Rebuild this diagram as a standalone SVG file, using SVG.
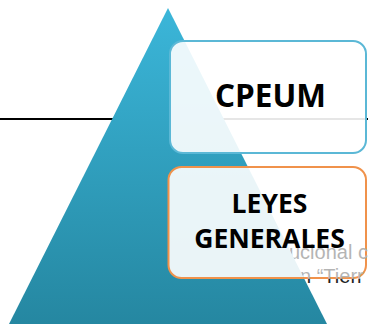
<svg xmlns="http://www.w3.org/2000/svg" width="368" height="324" viewBox="0 0 368 324">
  <defs>
    <linearGradient id="triGrad" x1="0" y1="0" x2="0" y2="1">
      <stop offset="0" stop-color="#3bb6d9"/>
      <stop offset="1" stop-color="#2587a1"/>
    </linearGradient>
    <linearGradient id="bgTextGrad" gradientUnits="userSpaceOnUse" x1="0" y1="240" x2="0" y2="300">
      <stop offset="0" stop-color="#b4b4b4"/>
      <stop offset="0.64" stop-color="#b4b4b4"/>
      <stop offset="0.65" stop-color="#222222"/>
      <stop offset="1" stop-color="#222222"/>
    </linearGradient>
    <clipPath id="outsideTri">
      <polygon points="168,8 368,8 368,324 327,324"/>
    </clipPath>
  </defs>
  <style>
    .box { fill: #ffffff; fill-opacity: 0.9; stroke-width: 2; }
    .label { font-family: "Open Sans", "Noto Sans", sans-serif; font-weight: 700; fill: #000000; text-anchor: middle; }
    .bgtext { font-family: "Liberation Sans", Arial, sans-serif; font-size: 20px; fill: url(#bgTextGrad); }
  </style>
  <g id="connectors">
    <line x1="0" y1="119" x2="368" y2="119" stroke="#000000" stroke-width="2"/>
  </g>
  <g id="pyramid">
    <polygon points="168,8 327,324 9,324" fill="url(#triGrad)"/>
  </g>
  <g id="cpeum">
    <rect class="box" x="170" y="41" width="196" height="112" rx="13" ry="13" stroke="#5bb8d6"/>
    <text class="label" x="270.5" y="107" font-size="31.5">CPEUM</text>
  </g>
  <g id="leyes-generales">
    <rect class="box" x="168.5" y="167" width="197.5" height="111" rx="13" ry="13" stroke="#f0924b" stroke-width="2.5"/>
  </g>
  <g id="background-text" clip-path="url(#outsideTri)">
    <text class="bgtext" x="289" y="259">ucional c</text>
    <text class="bgtext" x="300" y="283">n “Tierr</text>
  </g>
  <g id="leyes-label">
    <text class="label" x="269.5" y="213" font-size="26.5">LEYES</text>
    <text class="label" x="269.5" y="248" font-size="26.5">GENERALES</text>
  </g>
</svg>
